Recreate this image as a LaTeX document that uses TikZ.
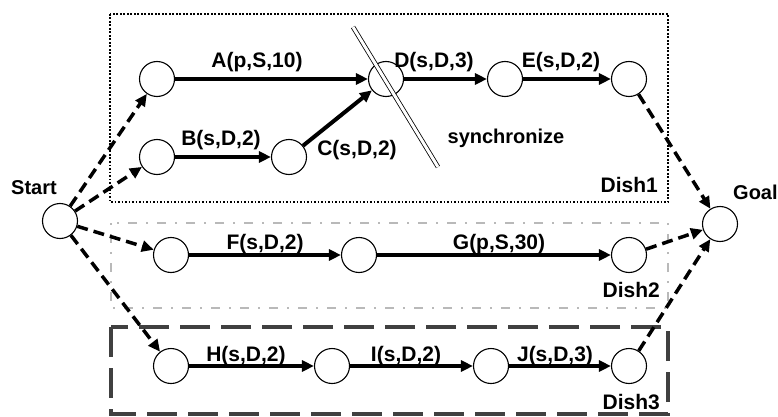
\documentclass[tikz,border=0pt]{standalone}
\usepackage{fontspec}
\setmainfont{Liberation Sans}
\usetikzlibrary{arrows.meta}
\begin{document}
\begin{tikzpicture}[x=1pt,y=-1pt,
  st/.style={circle,draw,line width=1.1pt,minimum size=35pt,inner sep=0pt,fill=white},
  act/.style={line width=4pt,-{Triangle[length=12pt,width=11pt]}},
  dsh/.style={line width=3.5pt,dash pattern=on 11pt off 6pt,-{Triangle[length=12pt,width=11pt]}},
  lbl/.style={font=\bfseries\fontsize{21}{24}\selectfont,inner sep=0pt},
  dishone/.style={line width=1.8pt,dash pattern=on 1.8pt off 1.7pt},
  dishtwo/.style={line width=1.5pt,gray!55,dash pattern=on 2pt off 9pt on 9pt off 9pt},
  dishthree/.style={line width=4pt,black!75,dash pattern=on 30pt off 11pt}]
\useasboundingbox (0,0) rectangle (778,417);

% dish boxes
\draw[dishone] (110,14) rectangle (668,202);
\draw[dishtwo] (111,223) rectangle (668,308);
\draw[dishthree] (111,327) rectangle (668,414);

% states
\node[st] (start) at (60,221) {};
\node[st] (goal) at (720,224) {};
\node[st] (a0) at (157,79) {};
\node[st] (b0) at (157,157) {};
\node[st] (b1) at (289,157) {};
\node[st] (d0) at (386,79) {};
\node[st] (d1) at (505,79) {};
\node[st] (e1) at (629,79) {};
\node[st] (f0) at (171,255) {};
\node[st] (f1) at (359,255) {};
\node[st] (g1) at (629,255) {};
\node[st] (h0) at (171,366) {};
\node[st] (h1) at (332,366) {};
\node[st] (i1) at (491,366) {};
\node[st] (j1) at (629,366) {};

% actions
\draw[act] (a0) -- (d0);
\draw[act] (b0) -- (b1);
\draw[act] (b1) -- (d0);
\draw[act] (d0) -- (d1);
\draw[act] (d1) -- (e1);
\draw[act] (f0) -- (f1);
\draw[act] (f1) -- (g1);
\draw[act] (h0) -- (h1);
\draw[act] (h1) -- (i1);
\draw[act] (i1) -- (j1);

% dashed connections
\draw[dsh] (start) -- (a0);
\draw[dsh] (start) -- (b0);
\draw[dsh] (start) -- (f0);
\draw[dsh] (start) -- (h0);
\draw[dsh] (e1) -- (goal);
\draw[dsh] (g1) -- (goal);
\draw[dsh] (j1) -- (goal);

% synchronize line
\coordinate (s1) at (353,27);
\coordinate (s2) at (438,167);
\draw[double,double distance=3pt,line width=0.8pt] (s1) -- (s2);

% labels
\node[lbl] (la) at (257,62) {A(p,S,10)};
\node[lbl] (lb) at (221,140) {B(s,D,2)};
\node[lbl] (lc) at (357,150) {C(s,D,2)};
\node[lbl] (ld) at (434,62) {D(s,D,3)};
\node[lbl] (le) at (561,62) {E(s,D,2)};
\node[lbl,font=\bfseries\fontsize{20}{24}\selectfont] (lsync) at (506,138) {synchronize};
\node[lbl] (lf) at (265,244) {F(s,D,2)};
\node[lbl] (lg) at (499,244) {G(p,S,30)};
\node[lbl] (lh) at (246,356) {H(s,D,2)};
\node[lbl] (li) at (406,356) {I(s,D,2)};
\node[lbl] (lj) at (555,356) {J(s,D,3)};
\node[lbl,font=\bfseries\fontsize{20}{24}\selectfont] (lstart) at (34,188) {Start};
\node[lbl,font=\bfseries\fontsize{20}{24}\selectfont,anchor=west] (lgoal) at (733,192) {Goal};
\node[lbl,anchor=east] (dish1) at (658,185) {Dish1};
\node[lbl,anchor=east] (dish2) at (660,290) {Dish2};
\node[lbl,anchor=east] (dish3) at (660,402) {Dish3};
\end{tikzpicture}
\end{document}
